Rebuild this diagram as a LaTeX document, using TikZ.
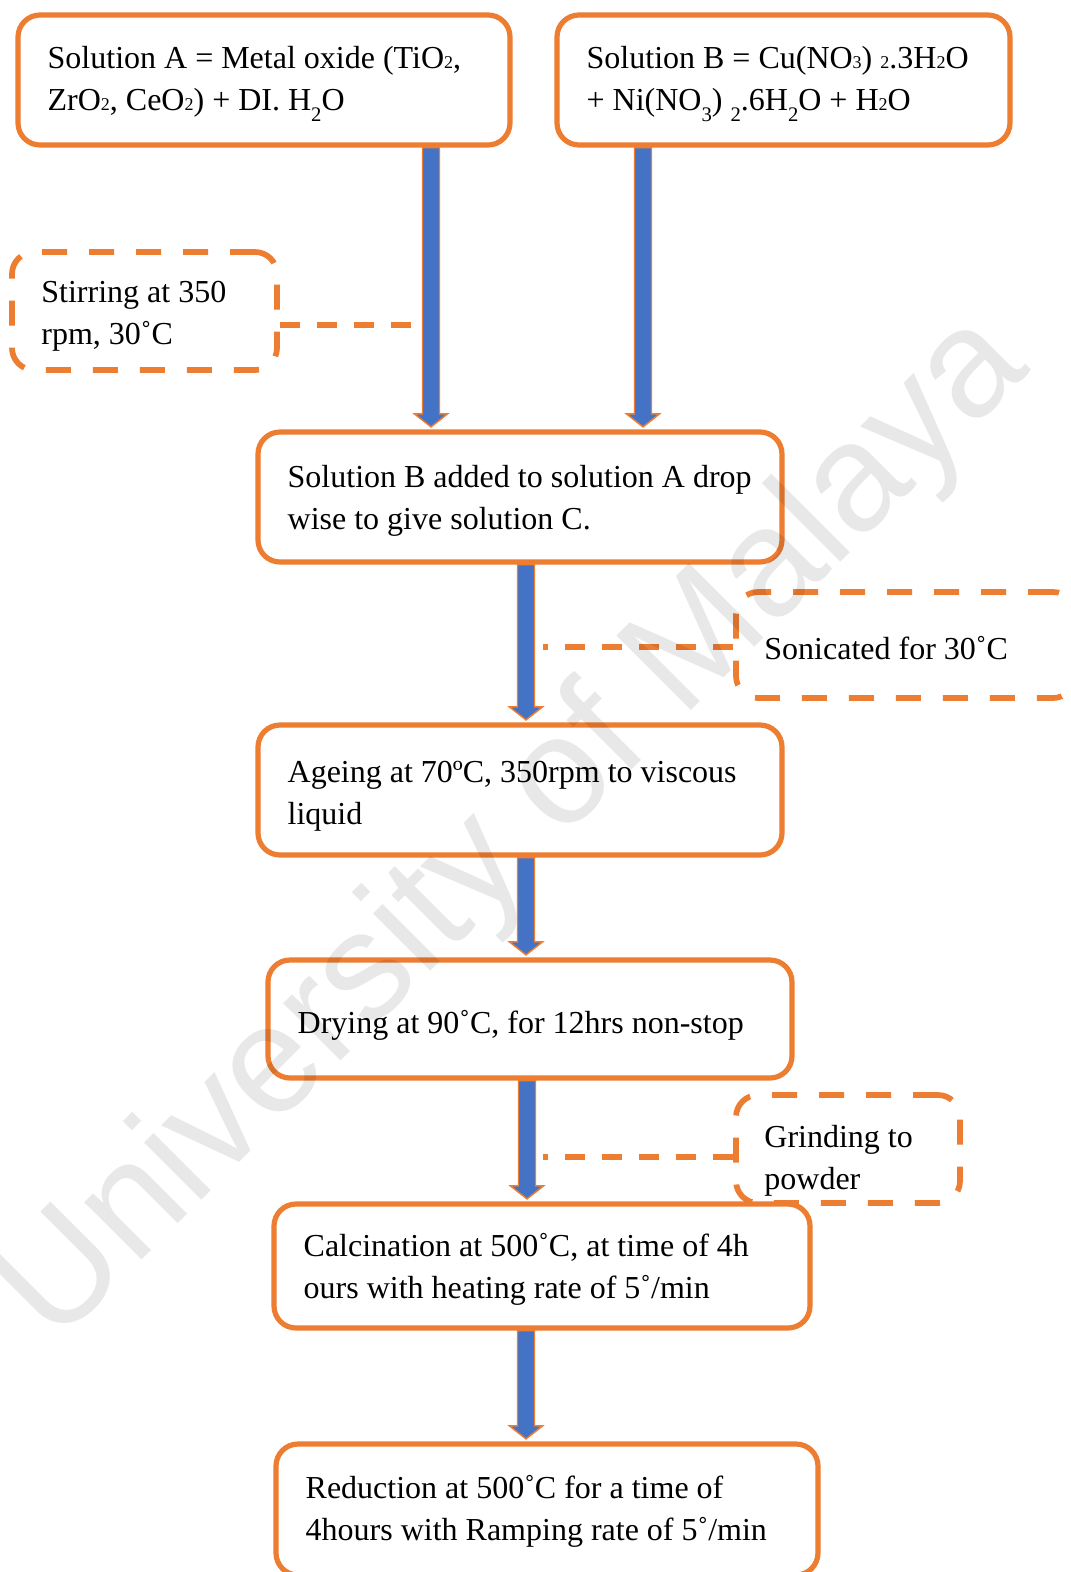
\documentclass[tikz,border=0pt]{standalone}
\usepackage{fontspec}
\setmainfont{Liberation Serif}
\newfontfamily\wmfont{Liberation Sans}
\usetikzlibrary{calc,backgrounds}
\definecolor{boxorange}{HTML}{ED7D31}
\definecolor{arrowblue}{HTML}{4472C4}
\newcommand{\bsub}[1]{{\fontsize{13.5pt}{13.5pt}\selectfont #1}}
\newcommand{\dsub}[1]{\raisebox{-8.5pt}{\fontsize{15.5pt}{15.5pt}\selectfont #1}}
\tikzset{
  solidbox/.style={draw=boxorange, line width=3.9pt, rounded corners=16.5pt, fill=white, inner sep=0pt},
  dashbox/.style={draw=boxorange, line width=4.3pt, rounded corners=16.5pt, dash pattern=on 18.75pt off 16.5pt, fill=white, inner sep=0pt},
  boxlabel/.style={inner sep=0pt, align=left, anchor=west},
  dashline/.style={draw=boxorange, line width=4.3pt, dash pattern=on 15pt off 12.75pt},
  blockarrow/.style={draw=boxorange, fill=arrowblue, line width=1.1pt, line join=miter,
    to path={($(\tikztostart)+(-8.5,0)$) -- ($(\tikztotarget)+(-8.5,-15.5)$) -- ($(\tikztotarget)+(-16.5,-15.5)$) -- ($(\tikztotarget)+(0,-2.5)$) -- ($(\tikztotarget)+(16.5,-15.5)$) -- ($(\tikztotarget)+(8.5,-15.5)$) -- ($(\tikztostart)+(8.5,0)$) -- cycle}}
}
\begin{document}
\begin{tikzpicture}[x=0.75pt, y=-0.75pt, font=\fontsize{24pt}{31.5pt}\selectfont]
\useasboundingbox (0,0) rectangle (1071,1572);
\clip (0,0) rectangle (1071,1572);

% column coordinates for the arrows
\coordinate (xa) at (431,0);
\coordinate (xb) at (643,0);
\coordinate (xc) at (526,0);
\coordinate (xe) at (527,0);
% free ends of the dashed connectors
\coordinate (cs) at (412,325);
\coordinate (cn) at (543,647);
\coordinate (cg) at (543,1157);

% main boxes
\node[solidbox, minimum width=369pt, minimum height=97.5pt] (boxA) at (264,80) {};
\node[boxlabel] (tA) at ($(boxA.west)+(32,4)$) {Solution A = Metal oxide (TiO\bsub{2},\\ZrO\bsub{2}, CeO\bsub{2}) + DI. H\dsub{2}O};

\node[solidbox, minimum width=339.75pt, minimum height=97.5pt] (boxB) at (783.5,80) {};
\node[boxlabel] (tB) at ($(boxB.west)+(32,4)$) {Solution B = Cu(NO\bsub{3}) \bsub{2}.3H\bsub{2}O\\+ Ni(NO\dsub{3}) \dsub{2}.6H\dsub{2}O + H\bsub{2}O};

\node[dashbox, minimum width=198.75pt, minimum height=88.5pt] (stir) at (144.5,311) {};
\node[boxlabel] (tS) at ($(stir.west)+(32,5)$) {Stirring at 350\\rpm, 30˚C};

\node[solidbox, minimum width=393pt, minimum height=97.5pt] (boxC) at (520,497) {};
\node[boxlabel] (tC) at ($(boxC.west)+(32,4)$) {Solution B added to solution A drop\\wise to give solution C.};

\node[dashbox, minimum width=254.25pt, minimum height=79.5pt] (sonic) at (905.5,645) {};
\node[boxlabel] (tN) at ($(sonic.west)+(31,3)$) {Sonicated for 30˚C};

\node[solidbox, minimum width=393pt, minimum height=97.5pt] (boxD) at (520,790) {};
\node[boxlabel] (tD) at ($(boxD.west)+(32,6)$) {Ageing at 70ºC, 350rpm to viscous\\liquid};

\node[solidbox, minimum width=393pt, minimum height=88.5pt] (boxE) at (530,1019) {};
\node[boxlabel] (tE) at ($(boxE.west)+(32,6)$) {Drying at 90˚C, for 12hrs non-stop};

\node[dashbox, minimum width=168pt, minimum height=81pt] (grind) at (848,1149) {};
\node[boxlabel] (tG) at ($(grind.west)+(31,12)$) {Grinding to\\powder};

\node[solidbox, minimum width=402pt, minimum height=93pt] (boxF) at (542,1266) {};
\node[boxlabel] (tF) at ($(boxF.west)+(32,3)$) {Calcination at 500˚C, at time of 4h\\ours with heating rate of 5˚/min};

\node[solidbox, minimum width=406.5pt, minimum height=98.25pt] (boxG) at (547,1509.5) {};
\node[boxlabel] (tH) at ($(boxG.west)+(32,2)$) {Reduction at 500˚C for a time of\\4hours with Ramping rate of 5˚/min};

% block arrows (behind the boxes)
\begin{scope}[on background layer]
\draw[blockarrow] (boxA.south -| xa) to (boxC.north -| xa);
\draw[blockarrow] (boxB.south -| xb) to (boxC.north -| xb);
\draw[blockarrow] (boxC.south -| xc) to (boxD.north -| xc);
\draw[blockarrow] (boxD.south -| xc) to (boxE.north -| xc);
\draw[blockarrow] (boxE.south -| xe) to (boxF.north -| xe);
\draw[blockarrow] (boxF.south -| xc) to (boxG.north -| xc);
\end{scope}

% dashed connectors
\draw[dashline] (stir.east |- cs) -- (cs);
\draw[dashline] (sonic.west |- cn) -- (cn);
\draw[dashline] (grind.west |- cg) -- (cg);

% watermark
\node[font=\wmfont\fontsize{115pt}{115pt}\selectfont, text=black, text opacity=0.09, rotate=45] (wm) at (516,830) {University of Malaya};
\end{tikzpicture}
\end{document}
